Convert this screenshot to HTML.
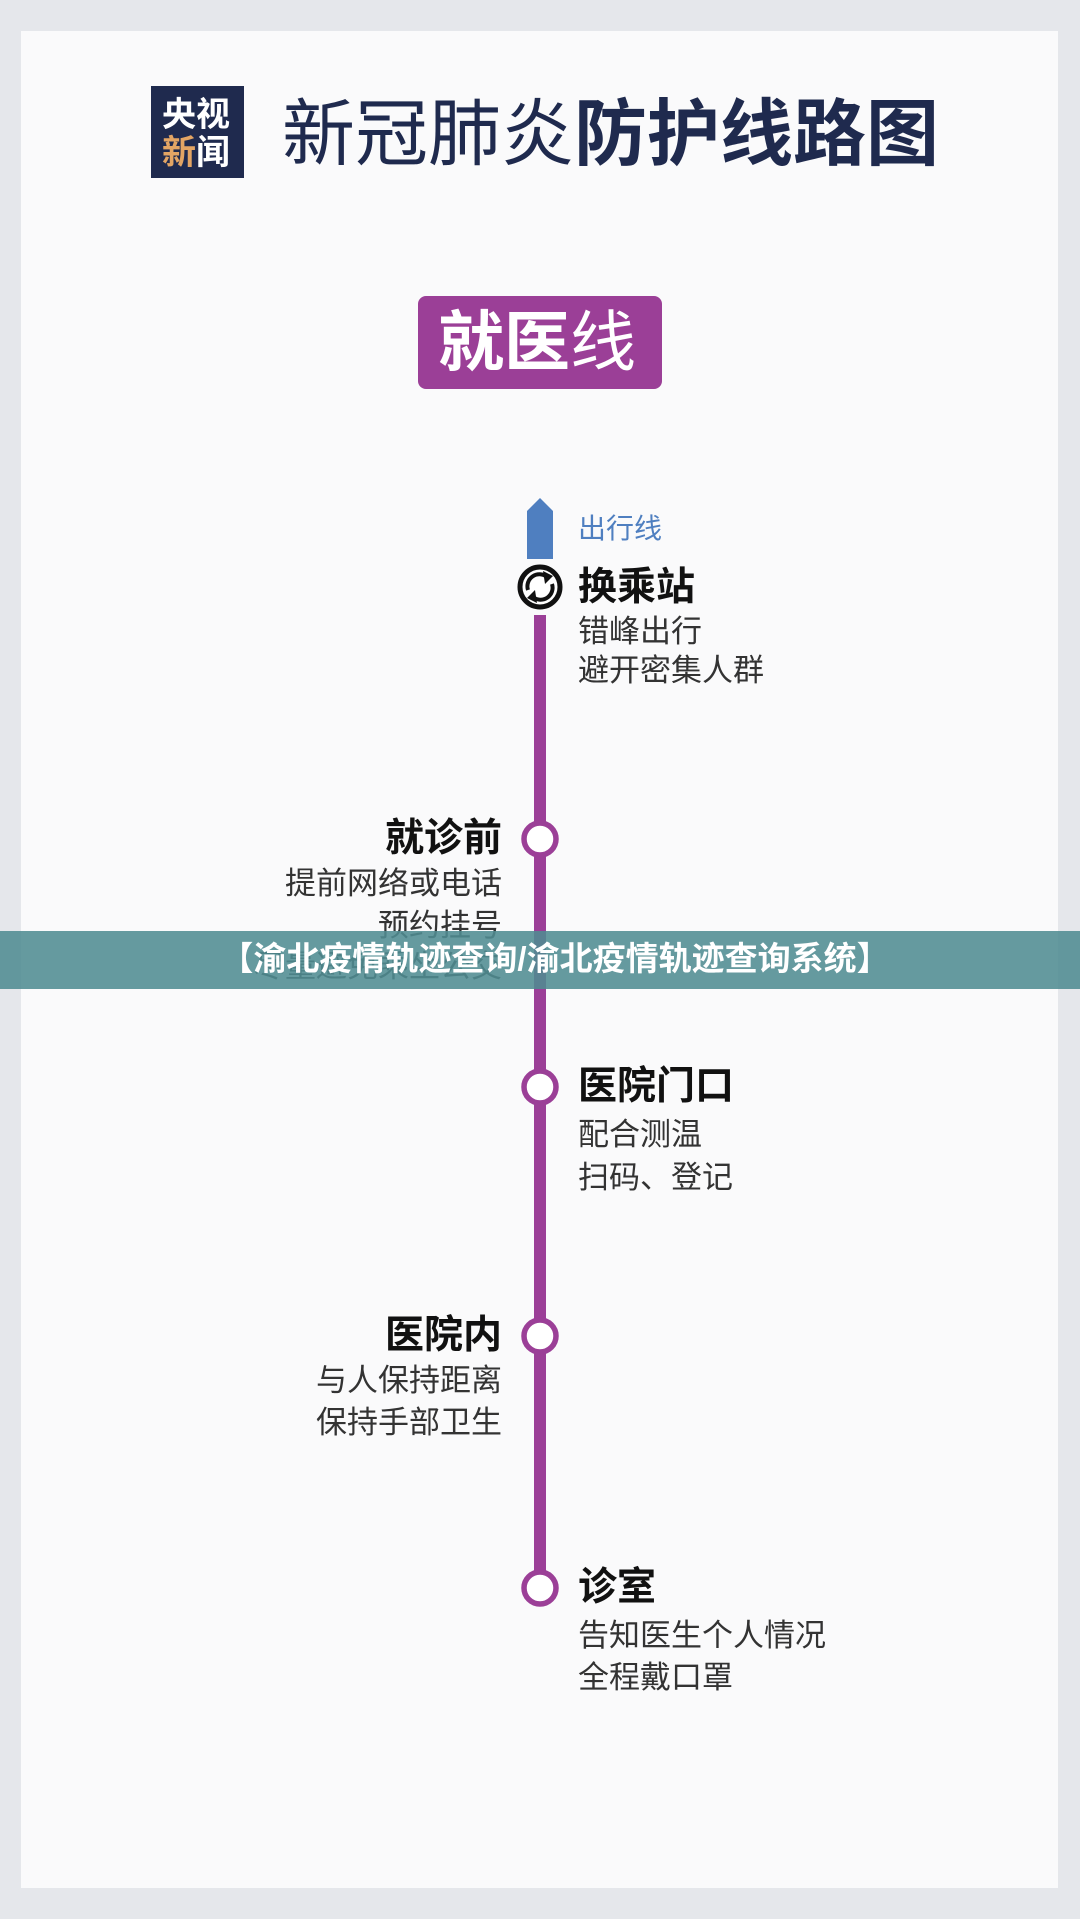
<!DOCTYPE html>
<html><head><meta charset="utf-8"><style>
body{margin:0;width:1080px;height:1919px;background:#e5e7eb;position:relative;overflow:hidden;font-family:"Liberation Sans","Noto Sans CJK SC",sans-serif}
.card{position:absolute;left:21px;top:31px;width:1037px;height:1857px;background:#fafafb}
.t{position:absolute;white-space:nowrap;line-height:1}
.h{font-weight:bold;font-size:39px;color:#111}
.s{font-size:31px;color:#333}
.r{text-align:right}
</style></head><body>
<div class="card"></div>
<div style="position:absolute;left:151px;top:86px;width:93px;height:92px;background:#1f2a4e"></div>
<div class="t" style="left:162px;top:96px;font-size:34px;font-weight:bold;color:#fff;line-height:38px">央视<br><span style="color:#e3a564">新</span>闻</div>
<div class="t" style="left:282px;top:98px;font-size:73px;color:#1f2a4e">新冠肺炎<b>防护线路图</b></div>
<div style="position:absolute;left:418px;top:296px;width:244px;height:93px;background:#9b3f97;border-radius:8px"></div>
<div class="t" style="left:438px;top:309px;font-size:66px;color:#fff"><b>就医</b>线</div>
<svg style="position:absolute;left:0;top:0" width="1080" height="1919">
<polygon points="527,511 540,498 553,511 553,559 527,559" fill="#4f7fc0"/>
<rect x="534" y="615" width="12" height="973" fill="#9b3f97"/>
<circle cx="540" cy="587" r="20" fill="#fff" stroke="#111" stroke-width="5"/>
<path d="M528,590 A12,12 0 0 1 547,577" fill="none" stroke="#111" stroke-width="4"/>
<polygon points="543,571 553,576 545,584" fill="#111"/>
<path d="M552,584 A12,12 0 0 1 533,597" fill="none" stroke="#111" stroke-width="4"/>
<polygon points="537,603 527,598 535,590" fill="#111"/>
<g fill="#fff" stroke="#9b3f97" stroke-width="5.5">
<circle cx="540" cy="839" r="16"/><circle cx="540" cy="1087" r="16"/><circle cx="540" cy="1336" r="16"/><circle cx="540" cy="1588" r="16"/></g>
</svg>
<div class="t" style="left:578px;top:515px;font-size:28px;color:#4f7fc0">出行线</div>
<div class="t h" style="left:578px;top:568px">换乘站</div>
<div class="t s" style="left:578px;top:616px">错峰出行</div>
<div class="t s" style="left:578px;top:655px">避开密集人群</div>
<div class="t h r" style="right:578px;top:819px">就诊前</div>
<div class="t s r" style="right:578px;top:868px">提前网络或电话</div>
<div class="t s r" style="right:578px;top:910px">预约挂号</div>
<div class="t s r" style="right:578px;top:951px">尽量避免乘坐公交</div>
<div class="t h" style="left:578px;top:1067px">医院门口</div>
<div class="t s" style="left:578px;top:1119px">配合测温</div>
<div class="t s" style="left:578px;top:1162px">扫码、登记</div>
<div class="t h r" style="right:578px;top:1316px">医院内</div>
<div class="t s r" style="right:578px;top:1365px">与人保持距离</div>
<div class="t s r" style="right:578px;top:1407px">保持手部卫生</div>
<div class="t h" style="left:578px;top:1568px">诊室</div>
<div class="t s" style="left:578px;top:1620px">告知医生个人情况</div>
<div class="t s" style="left:578px;top:1662px">全程戴口罩</div>
<div style="position:absolute;left:0;top:931px;width:1080px;height:58px;background:rgba(80,140,146,0.88)"></div>
<div class="t" style="left:15px;width:1080px;text-align:center;top:942px;font-size:33px;font-weight:bold;color:#fff">【渝北疫情轨迹查询/渝北疫情轨迹查询系统】</div>
</body></html>
